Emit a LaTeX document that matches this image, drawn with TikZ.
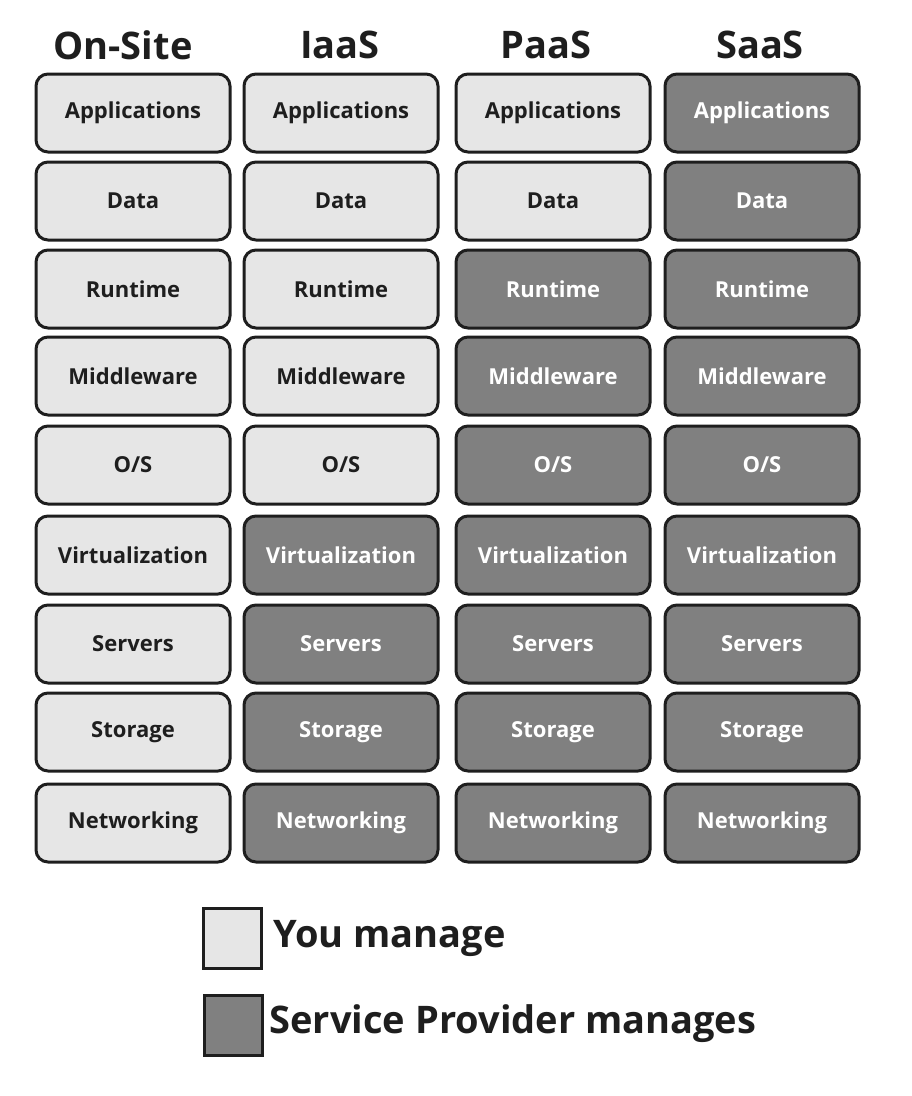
\documentclass[tikz,border=0pt]{standalone}
\usepackage{fontspec}
\setmainfont{Open Sans}
\usepackage{tikz}
\usetikzlibrary{positioning}

\definecolor{youfill}{HTML}{E6E6E6}
\definecolor{provfill}{HTML}{808080}
\definecolor{edgeblack}{HTML}{1E1E1E}

\begin{document}
\begin{tikzpicture}[x=1pt,y=-1pt,draw=edgeblack]
	\useasboundingbox (0,0) rectangle (912,1096);
	\def \colone{133}
	\def \coltwo{341}
	\def \colthree{553}
	\def \colfour{762}
	\tikzstyle{you-node}=[rectangle,rounded corners=12pt,draw=edgeblack,line width=3pt,fill=youfill,text=edgeblack,minimum width=194pt,minimum height=78pt,inner sep=0pt,font=\fontsize{22}{26}\selectfont\bfseries]
	\tikzstyle{prov-node}=[you-node,fill=provfill,text=white]
	\tikzstyle{head} = [text=edgeblack,font=\fontsize{38}{44}\selectfont\bfseries]
	\tikzstyle{key} = [rectangle,draw=edgeblack,line width=3pt,minimum width=58pt,minimum height=60pt,inner sep=0pt]
	\tikzstyle{keytext} = [text=edgeblack,font=\fontsize{38}{44}\selectfont\bfseries,anchor=west]

	% column headings
	\node[head] (onsite-label)	at (123,45)	{On-Site};
	\node[head] (iaas-label)	at (340,45)	{IaaS};
	\node[head] (paas-label)	at (546,45)	{PaaS};
	\node[head] (saas-label)	at (760,45)	{SaaS};

	% on-site
	\node[you-node]	(o0)	at (\colone,113)	{Applications};
	\node[you-node]	(o1)	at (\colone,201)	{Data};
	\node[you-node]	(o2)	at (\colone,289)	{Runtime};
	\node[you-node]	(o3)	at (\colone,376)	{Middleware};
	\node[you-node]	(o4)	at (\colone,465)	{O/S};
	\node[you-node]	(o5)	at (\colone,555)	{Virtualization};
	\node[you-node]	(o6)	at (\colone,644)	{Servers};
	\node[you-node]	(o7)	at (\colone,732)	{Storage};
	\node[you-node]	(o8)	at (\colone,823)	{Networking};

	% iaas
	\node[you-node]	(i0)	at (\coltwo,113)	{Applications};
	\node[you-node]	(i1)	at (\coltwo,201)	{Data};
	\node[you-node]	(i2)	at (\coltwo,289)	{Runtime};
	\node[you-node]	(i3)	at (\coltwo,376)	{Middleware};
	\node[you-node]	(i4)	at (\coltwo,465)	{O/S};
	\node[prov-node]	(i5)	at (\coltwo,555)	{Virtualization};
	\node[prov-node]	(i6)	at (\coltwo,644)	{Servers};
	\node[prov-node]	(i7)	at (\coltwo,732)	{Storage};
	\node[prov-node]	(i8)	at (\coltwo,823)	{Networking};

	% paas
	\node[you-node]	(p0)	at (\colthree,113)	{Applications};
	\node[you-node]	(p1)	at (\colthree,201)	{Data};
	\node[prov-node]	(p2)	at (\colthree,289)	{Runtime};
	\node[prov-node]	(p3)	at (\colthree,376)	{Middleware};
	\node[prov-node]	(p4)	at (\colthree,465)	{O/S};
	\node[prov-node]	(p5)	at (\colthree,555)	{Virtualization};
	\node[prov-node]	(p6)	at (\colthree,644)	{Servers};
	\node[prov-node]	(p7)	at (\colthree,732)	{Storage};
	\node[prov-node]	(p8)	at (\colthree,823)	{Networking};

	% saas
	\node[prov-node]	(s0)	at (\colfour,113)	{Applications};
	\node[prov-node]	(s1)	at (\colfour,201)	{Data};
	\node[prov-node]	(s2)	at (\colfour,289)	{Runtime};
	\node[prov-node]	(s3)	at (\colfour,376)	{Middleware};
	\node[prov-node]	(s4)	at (\colfour,465)	{O/S};
	\node[prov-node]	(s5)	at (\colfour,555)	{Virtualization};
	\node[prov-node]	(s6)	at (\colfour,644)	{Servers};
	\node[prov-node]	(s7)	at (\colfour,732)	{Storage};
	\node[prov-node]	(s8)	at (\colfour,823)	{Networking};

	% legend
	\node[key,fill=youfill]	(you-key)	at (232,938)	{};
	\node[key,fill=provfill]	(prov-key)	at (233,1025)	{};
	\node[keytext]	(you-label)	at (270,938)	{You manage};
	\node[keytext]	(prov-label)	at (266,1024)	{Service Provider manages};
\end{tikzpicture}
\end{document}
